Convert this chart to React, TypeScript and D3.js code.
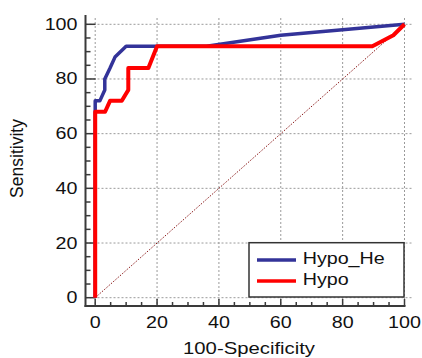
import React from "react";
import * as d3 from "d3";

const W = 422;
const H = 358;

const xTicks = [0, 20, 40, 60, 80, 100];
const yTicks = [0, 20, 40, 60, 80, 100];
const minorTicks = d3.range(0, 101, 5);

const hypoHeX = [0, 0, 1.5, 3.1, 3.1, 4.8, 6.4, 10, 20, 36, 60, 100];
const hypoHeY = [0, 72, 72, 76, 80, 84, 88, 92, 92, 92, 96, 100];

const hypoX = [0, 0, 3.2, 4.8, 8.6, 10.7, 10.7, 17.2, 20, 89.6, 96.4, 100];
const hypoY = [0, 68, 68, 72, 72, 76, 84, 84, 92, 92, 96, 100];

const seriesNames = ["Hypo_He", "Hypo"];
const seriesColors = ["#333399", "#ff0000"];

const FONT = "'Liberation Sans', Arial, sans-serif";
const SX = 1.23;

export default function App() {
  const x = d3.scaleLinear().domain([0, 100]).range([95.2, 404.5]);
  const y = d3.scaleLinear().domain([0, 100]).range([297.7, 24.3]);
  const line = d3
    .line<[number, number]>()
    .x((d) => x(d[0]))
    .y((d) => y(d[1]));

  const blue = hypoHeX.map((v, i) => [v, hypoHeY[i]] as [number, number]);
  const red = hypoX.map((v, i) => [v, hypoY[i]] as [number, number]);

  const axisX = 85.5;
  const axisY = 306;
  const axisColor = "#3a3a3a";

  return (
    <svg
      width={W}
      height={H}
      style={{ position: "absolute", left: 0, top: 0, background: "#fff" }}
      fontFamily={FONT}
    >
      <rect x={0} y={0} width={W} height={H} fill="#fff" />
      {/* grid */}
      {yTicks.map((t) => (
        <line
          key={"gy" + t}
          x1={axisX}
          x2={412}
          y1={y(t)}
          y2={y(t)}
          stroke="#9a9a9a"
          strokeWidth={1}
          strokeDasharray="2,2"
        />
      ))}
      {xTicks.map((t) => (
        <line
          key={"gx" + t}
          x1={x(t)}
          x2={x(t)}
          y1={18}
          y2={axisY}
          stroke="#9a9a9a"
          strokeWidth={1}
          strokeDasharray="2,2"
        />
      ))}
      {/* diagonal */}
      <line
        x1={x(0)}
        y1={y(0)}
        x2={x(100)}
        y2={y(100)}
        stroke="#8b1a1a"
        strokeWidth={1}
        strokeDasharray="1.5,1.5"
      />
      {/* axes */}
      <line x1={axisX} x2={axisX} y1={15} y2={axisY + 1} stroke={axisColor} strokeWidth={2} />
      <line x1={axisX - 1} x2={x(100) + 1} y1={axisY} y2={axisY} stroke={axisColor} strokeWidth={2} />
      {minorTicks.map((t) => {
        const major = t % 20 === 0;
        return (
          <g key={"t" + t}>
            <line
              x1={axisX}
              x2={axisX + (major ? 10 : 5)}
              y1={y(t)}
              y2={y(t)}
              stroke={axisColor}
              strokeWidth={1.5}
            />
            <line
              x1={x(t)}
              x2={x(t)}
              y1={axisY}
              y2={axisY - (major ? 7 : 4)}
              stroke={axisColor}
              strokeWidth={1.5}
            />
          </g>
        );
      })}
      {yTicks.map((t) => (
        <text
          key={"yl" + t}
          transform={`translate(77.5,${y(t) + 5.5}) scale(${SX},1)`}
          textAnchor="end"
          fontSize={16}
          fill="#111"
        >
          {t}
        </text>
      ))}
      {xTicks.map((t) => (
        <text
          key={"xl" + t}
          transform={`translate(${x(t)},328.3) scale(${SX},1)`}
          textAnchor="middle"
          fontSize={16}
          fill="#111"
        >
          {t}
        </text>
      ))}
      <text
        transform={`translate(249,354.3) scale(${SX},1)`}
        textAnchor="middle"
        fontSize={16.5}
        fill="#111"
      >
        100-Specificity
      </text>
      <text
        transform={`translate(22.5,158.5) rotate(-90)`}
        textAnchor="middle"
        fontSize={17.5}
        fill="#111"
      >
        Sensitivity
      </text>
      {/* curves */}
      <path d={line(blue) || ""} fill="none" stroke={seriesColors[0]} strokeWidth={3.5} strokeLinejoin="round" />
      <path d={line(red) || ""} fill="none" stroke={seriesColors[1]} strokeWidth={4} strokeLinejoin="round" />
      {/* legend */}
      <rect x={249} y={242.7} width={155} height={54.3} fill="#fff" stroke="#333" strokeWidth={1.5} />
      {seriesNames.map((n, i) => (
        <g key={n}>
          <line
            x1={257}
            x2={296}
            y1={260 + i * 21}
            y2={260 + i * 21}
            stroke={seriesColors[i]}
            strokeWidth={3.5}
          />
          <text
            transform={`translate(302.7,${264.3 + i * 20.7}) scale(${SX},1)`}
            fontSize={16}
            fill="#111"
          >
            {n}
          </text>
        </g>
      ))}
    </svg>
  );
}
